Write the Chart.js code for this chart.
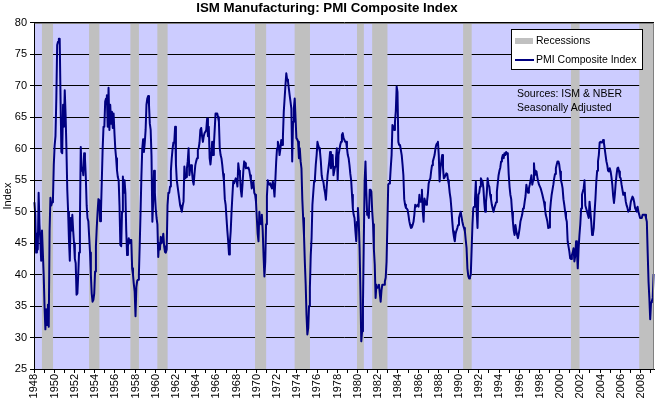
<!DOCTYPE html>
<html>
<head>
<meta charset="utf-8">
<title>ISM Manufacturing: PMI Composite Index</title>
<script src="https://cdn.jsdelivr.net/npm/chart.js@4.4.1/dist/chart.umd.min.js"></script>
<style>
    body { margin: 0; background: #fff; font-family: Arial, "Liberation Sans", sans-serif; }
    #wrap { position: relative; width: 657px; height: 403px; overflow: hidden; }
    #pmiChart { position: absolute; left: 0; top: 0; }
    .legend-box {
        position: absolute; left: 511px; top: 29px; width: 132px; height: 41px;
        box-sizing: border-box; border: 1px solid #000; background: #fff;
        font-size: 10.5px; line-height: 13px; color: #000;
    }
    .legend-box .swatch { position: absolute; left: 3px; top: 8px; width: 18px; height: 6px; background: #c0c0c0; }
    .legend-box .stroke { position: absolute; left: 3px; top: 29px; width: 19px; height: 2px; background: #000080; }
    .legend-box .lbl { position: absolute; left: 24px; white-space: nowrap; }
    .note { position: absolute; left: 517px; top: 86px; font-size: 10.5px; line-height: 14px; color: #000; white-space: nowrap; }
</style>
</head>
<body>
<div id="wrap">
    <canvas id="pmiChart" width="657" height="403"></canvas>
    <div class="legend-box">
        <div class="swatch"></div><span class="lbl" style="top:4px">Recessions</span>
        <div class="stroke"></div><span class="lbl" style="top:23px">PMI Composite Index</span>
    </div>
    <div class="note">Sources: ISM &amp; NBER<br>Seasonally Adjusted</div>
</div>
<script>
// Monthly PMI readings, Jan 1948 .. Apr 2009
const firstYear = 1948;

const pmi1940s = [
    51.5, 49.5, 43.5, 46.5, 44, 53, 48, 45.5, 42.2, 47, 47, 40,       // 1948
    35, 31.3, 34.5, 32, 35.2, 31.7, 47, 52.2, 51, 51.5, 52, 57.5       // 1949
];
const pmi1950s = [
    60.5, 62, 68, 76.5, 77, 77.5, 77.5, 68, 59.5, 59.3, 67, 63.5,      // 1950
    69.3, 65.5, 60, 53.5, 50, 45.5, 42.2, 49, 47, 49.5, 47, 45,        // 1951
    42.5, 41.8, 36.8, 37, 40, 43.5, 48.5, 60.3, 56.5, 57, 55.8, 59.3,  // 1952
    58.5, 55.5, 51, 49, 48.5, 46, 43.5, 40, 37, 35.7, 36, 37,          // 1953
    40.5, 44.5, 47.5, 50, 52, 51.8, 48.5, 50, 55, 60, 63.5, 63.5,      // 1954
    67.5, 68, 68.5, 63.5, 69.7, 63, 67, 64, 65.9, 63.3, 65.6, 62.5,    // 1955
    60, 58.5, 56.6, 55.5, 55, 51, 44.7, 44.5, 50, 55.6, 53, 55,        // 1956
    53, 47, 43.1, 44.5, 45.8, 45, 45.5, 45.5, 41, 40, 38.5, 37.3,      // 1957
    33.4, 38, 39, 39.2, 40, 44.7, 50, 55.6, 60, 61.5, 59.5, 61,        // 1958
    63, 67, 68, 68.4, 67, 64, 63, 58.8, 48.4, 51.6, 56.5, 53           // 1959
];
const pmi1960s = [
    50.5, 49, 48, 42.8, 45, 44, 46, 45, 45.5, 46.5, 44.5, 43.6,        // 1960
    43.5, 44, 51, 53, 53, 54, 56.5, 58.5, 60, 61, 61, 63.5,            // 1961
    57.5, 55, 54, 53, 52, 51, 50.5, 50, 51, 51.6, 57.2, 55.3,          // 1962
    55.5, 56.9, 58, 60.1, 55.8, 57, 57.4, 56.4, 55, 54.3, 56, 57.4,    // 1963
    58, 58.5, 59.8, 60.1, 61, 63, 63.3, 62, 61.1, 62, 62.5, 62.7,      // 1964
    63, 64.8, 62, 63.5, 58.5, 57.5, 59, 61.1, 59, 60.6, 63, 65.6,      // 1965
    65.6, 65.6, 65, 64.3, 60.1, 59, 58.5, 57.4, 56, 54.8, 52, 51.1,    // 1966
    49, 47, 45.3, 43.2, 45, 46.9, 50, 52.5, 54.8, 54.5, 54.5, 55.3,    // 1967
    55, 54, 57.7, 56.5, 55.8, 53.5, 52.4, 54.3, 56.5, 58, 57.7, 56.9,  // 1968
    57, 56.9, 57, 56.6, 55.8, 55, 53.7, 54.5, 54.8, 53, 52.7, 51.6     // 1969
];
const pmi1970s = [
    49, 46.5, 45.3, 50, 48.5, 48, 49.5, 47, 43, 39.7, 42, 48,          // 1970
    52.5, 55, 54.5, 54.3, 54.5, 54, 53.7, 54.8, 54, 52.4, 55, 58,      // 1971
    60.1, 61.1, 60.5, 59, 60, 61.4, 60.6, 62, 65.9, 68, 70.1, 72,      // 1972
    71, 70.7, 69.6, 68.5, 67.5, 66.4, 58, 64.3, 66.5, 68, 64.8, 61.7,  // 1973
    61.5, 61.1, 58.5, 60.1, 58, 56.9, 52, 49, 46.3, 42, 38.5, 33.6,    // 1974
    30.5, 31.5, 35, 37.9, 43, 45.8, 51.1, 53, 54.8, 55.3, 57.5, 59,    // 1975
    61.1, 60.5, 60.1, 59.5, 58, 55.8, 55, 54.8, 53.7, 53, 51.9, 54,    // 1976
    55.8, 56.9, 58, 59.5, 56.9, 58, 59, 55.8, 56.5, 57.2, 58.5, 60.1,  // 1977
    55, 59, 59.8, 60.6, 61.1, 62.2, 62.5, 61.7, 61.4, 61.1, 61.1, 60.1, // 1978
    59, 58.5, 57.4, 56, 55, 52.7, 50.5, 49.5, 49, 47, 45.3, 48.4       // 1979
];
const pmi1980s = [
    50.6, 48.5, 44.2, 37.3, 29.4, 31, 35.2, 45.3, 54.8, 58, 53.2, 49.5, // 1980
    49.5, 49, 53.5, 53.5, 53.2, 50, 48, 44, 41.6, 36.3, 38.4, 37.9,    // 1981
    38, 38.4, 37, 35.7, 37.5, 38.4, 38.4, 38.4, 38.9, 39.5, 42, 48,    // 1982
    54.3, 54.5, 54.8, 57, 59, 63.8, 63.5, 63, 64.3, 66, 69.9, 69,      // 1983
    61.1, 60.6, 60.6, 60.6, 59, 57.5, 55.8, 52, 51.1, 50.6, 50.5, 50.3, // 1984
    49.5, 48.5, 47.9, 47.4, 47.5, 47.9, 48.4, 49.5, 51.1, 50.8, 50.8, 51.1, // 1985
    50.8, 52.7, 51.6, 51.6, 53.5, 50, 48.4, 52.1, 51.6, 51.1, 51.6, 52.7, // 1986
    54.5, 55, 55.3, 56.5, 57.4, 58, 58.5, 59, 60, 60.6, 60.9, 61.1,    // 1987
    59, 54.8, 57, 58, 59, 57, 55.3, 55.5, 55.8, 56.1, 56, 55,          // 1988
    54.3, 53, 52.1, 50.5, 48.5, 46.9, 46, 45.3, 46.5, 47, 47.4, 47.9   // 1989
];
const pmi1990s = [
    49, 49.5, 50, 49.2, 48.4, 47.8, 47.4, 46.9, 45.5, 44.2, 41, 39.8,  // 1990
    39.4, 39.6, 40, 44, 48, 50.6, 50.8, 52, 54.8, 50, 47.4, 52.7,      // 1991
    53, 54, 55.3, 55, 54.8, 53.7, 51.5, 50, 51.5, 53, 55.3, 54.3,      // 1992
    54, 52.7, 52, 51.1, 50.5, 50, 50.6, 51, 51.5, 53.2, 54.5, 55.8,    // 1993
    56.5, 57, 58, 58.5, 59, 58.5, 59.3, 59, 59.5, 59.3, 59, 56,        // 1994
    54, 52.7, 52, 50, 48.4, 47, 46.3, 47.9, 47, 46.3, 45.8, 46.5,      // 1995
    47.4, 48.5, 49, 49.5, 50.5, 50.6, 51.6, 52.5, 54.3, 53.5, 53, 53.7, // 1996
    54.3, 55, 55.8, 54.3, 55, 57.7, 55.8, 56.5, 56.4, 55.5, 54.8, 54.3, // 1997
    54.3, 53.7, 53.2, 52.7, 52.1, 51.5, 50.6, 49.5, 49, 48.4, 47.4, 47.5, // 1998
    50, 51.5, 52.7, 53.5, 54.3, 55.3, 56, 56.9, 57.5, 58, 58, 57.5     // 1999
];
const pmi2000s = [
    56.4, 55, 54.5, 53.7, 52, 51.1, 50, 49, 48.4, 45.3, 44.5, 43.7,    // 2000
    42.6, 42.5, 43.1, 43.5, 44.2, 42.1, 43, 45.3, 43.7, 41, 44.2, 46.3, // 2001
    48, 50.5, 52.7, 53.2, 53.7, 55, 51, 50.5, 50, 49.5, 49, 51.6,      // 2002
    50, 48.4, 46.3, 46.5, 47.4, 50, 52.1, 54.8, 56.5, 58, 59, 61,      // 2003
    61.1, 61, 61, 61.4, 61, 60, 59, 58, 57.4, 56.5, 56.4, 56.9,        // 2004
    56.4, 55.5, 54.3, 52.5, 51.4, 52.7, 54.5, 55.8, 56.9, 57, 56.4, 55.5, // 2005
    55.3, 54.3, 53.5, 52.7, 53, 52.7, 51.6, 51, 50.6, 50, 50.3, 50.6,  // 2006
    51.6, 52, 52.4, 52.1, 51.5, 50.6, 50.3, 50, 50.8, 50, 49.5, 49,    // 2007
    49, 49, 49.5, 49.5, 49.5, 49.5, 49, 48.4, 43.5, 38.9, 36.2, 32.9,  // 2008
    35.6, 35.8, 36.3, 40.1                                             // 2009
];

// NBER recessions, first and last month
const recessions = [
    ['1948-11', '1949-10'], ['1953-07', '1954-05'], ['1957-08', '1958-04'],
    ['1960-04', '1961-02'], ['1969-12', '1970-11'], ['1973-11', '1975-03'],
    ['1980-01', '1980-07'], ['1981-07', '1982-11'], ['1990-07', '1991-03'],
    ['2001-03', '2001-11'], ['2007-12', '2009-04']
];

const yTicks = { min: 25, max: 80, step: 5 };

const plotBg = '#ccccff';
const recessionColor = '#c0c0c0';
const lineColor = '#000080';

const pmi = [].concat(pmi1940s, pmi1950s, pmi1960s, pmi1970s, pmi1980s, pmi1990s, pmi2000s);

const months = pmi.map((v, i) => {
    const y = firstYear + Math.floor(i / 12);
    const m = (i % 12) + 1;
    return `${y}-${String(m).padStart(2, '0')}`;
});

const recessionFlags = months.map(label =>
    recessions.some(([from, to]) => label >= from && label <= to) ? 1 : null
);

// Plot area fill + frame
const plotFrame = {
    id: 'plotFrame',
    beforeDraw(chart) {
        const { ctx, chartArea: a } = chart;
        ctx.save();
        ctx.fillStyle = plotBg;
        ctx.fillRect(a.left, a.top, a.right - a.left, a.bottom - a.top);
        ctx.restore();
    },
    afterDatasetsDraw(chart) {
        const { ctx, chartArea: a } = chart;
        const l = Math.round(a.left) + 0.5;
        const b = Math.round(a.bottom) + 0.5;
        const t = Math.round(a.top) + 0.5;
        const r = Math.round(a.right) - 0.5;
        ctx.save();
        ctx.lineWidth = 1;
        ctx.strokeStyle = '#808080';
        ctx.beginPath();
        ctx.moveTo(l, t);
        ctx.lineTo(r, t);
        ctx.lineTo(r, b);
        ctx.stroke();
        ctx.strokeStyle = '#000';
        ctx.beginPath();
        ctx.moveTo(l, t);
        ctx.lineTo(l, b);
        ctx.lineTo(r, b);
        ctx.stroke();
        ctx.restore();
    }
};

document.addEventListener('DOMContentLoaded', function() {
    Chart.defaults.font.family = 'Arial, "Liberation Sans", sans-serif';
    Chart.defaults.font.size = 11;
    Chart.defaults.color = '#000';

    const ctx = document.getElementById('pmiChart').getContext('2d');
    new Chart(ctx, {
        type: 'bar',
        data: {
            labels: months,
            datasets: [
                {
                    type: 'line',
                    label: 'PMI Composite Index',
                    data: pmi,
                    borderColor: lineColor,
                    borderWidth: 2,
                    borderJoinStyle: 'round',
                    pointRadius: 0,
                    tension: 0,
                    yAxisID: 'y',
                    order: 1
                },
                {
                    type: 'bar',
                    label: 'Recessions',
                    data: recessionFlags,
                    backgroundColor: recessionColor,
                    borderWidth: 0,
                    barPercentage: 1,
                    categoryPercentage: 1,
                    inflateAmount: 0.5,
                    yAxisID: 'yRec',
                    order: 2
                }
            ]
        },
        options: {
            responsive: false,
            devicePixelRatio: 1,
            animation: false,
            layout: { padding: { left: 0, right: 3, top: 0, bottom: 0 } },
            plugins: {
                legend: { display: false },
                tooltip: { enabled: false },
                title: {
                    display: true,
                    text: 'ISM Manufacturing: PMI Composite Index',
                    font: { size: 13.3, weight: 'bold' },
                    color: '#000',
                    padding: { top: 0, bottom: 7 }
                }
            },
            scales: {
                x: {
                    offset: true,
                    grid: {
                        offset: true,
                        drawOnChartArea: false,
                        drawTicks: true,
                        tickLength: 4,
                        color: (c) => (c.index % 12 === 0 ? '#000' : 'rgba(0,0,0,0)')
                    },
                    border: { display: true, color: '#000' },
                    ticks: {
                        autoSkip: false,
                        minRotation: 90,
                        maxRotation: 90,
                        padding: 1,
                        callback: function(value, index) {
                            if (index % 12 !== 0) return '';
                            const year = firstYear + index / 12;
                            return (year - firstYear) % 2 === 0 ? String(year) : '';
                        }
                    },
                    afterFit: (scale) => {
                        scale.height = 34;
                        scale.paddingLeft = 0;
                        scale.paddingRight = 0;
                    }
                },
                y: {
                    position: 'left',
                    min: yTicks.min,
                    max: yTicks.max,
                    ticks: { stepSize: yTicks.step, padding: 3 },
                    grid: { color: '#000', lineWidth: 1, drawTicks: true, tickLength: 4 },
                    border: { display: true, color: '#000' },
                    title: {
                        display: true,
                        text: 'Index',
                        font: { size: 11 },
                        padding: { top: 1, bottom: 0 }
                    },
                    afterFit: (scale) => { scale.width = 34; }
                },
                yRec: {
                    display: false,
                    min: 0,
                    max: 1
                }
            }
        },
        plugins: [plotFrame]
    });
});
</script>
</body>
</html>
